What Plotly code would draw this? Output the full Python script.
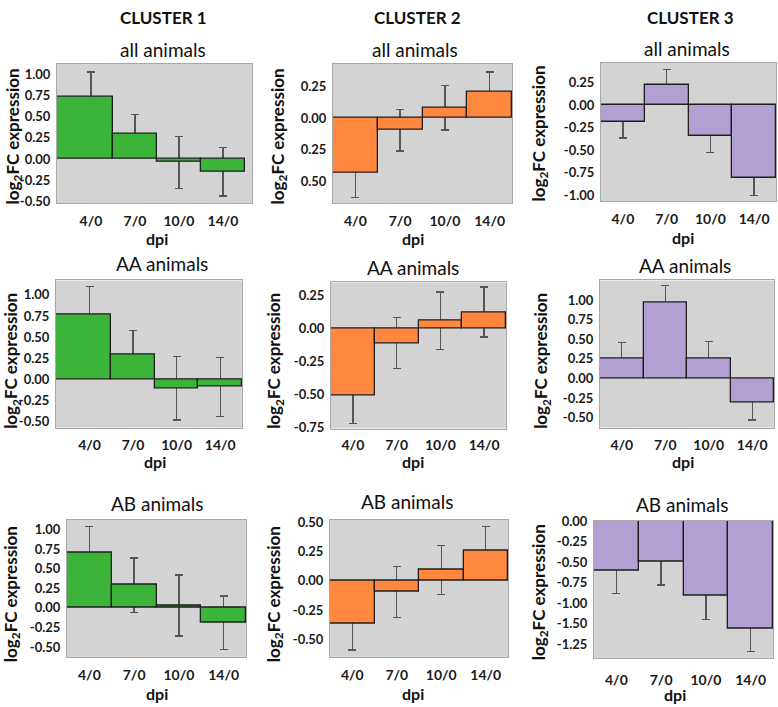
import plotly.graph_objects as go

categories = ["4/0", "7/0", "10/0", "14/0"]

c1_all = [0.74, 0.30, -0.04, -0.15]
c1_all_err = [0.29, 0.23, 0.31, 0.29]
c2_all = [-0.435, -0.093, 0.083, 0.206]
c2_all_err = [0.19, 0.165, 0.175, 0.16]
c3_all = [-0.185, 0.225, -0.344, -0.81]
c3_all_err = [0.18, 0.17, 0.18, 0.19]

c1_AA = [0.77, 0.30, -0.105, -0.09]
c1_AA_err = [0.33, 0.28, 0.375, 0.35]
c2_AA = [-0.51, -0.11, 0.058, 0.125]
c2_AA_err = [0.21, 0.195, 0.22, 0.19]
c3_AA = [0.25, 0.967, 0.25, -0.30]
c3_AA_err = [0.21, 0.22, 0.22, 0.23]

c1_AB = [0.70, 0.29, 0.03, -0.19]
c1_AB_err = [0.34, 0.345, 0.39, 0.34]
c2_AB = [-0.37, -0.097, 0.09, 0.253]
c2_AB_err = [0.22, 0.22, 0.21, 0.21]
c3_AB = [-0.604, -0.496, -0.912, -1.312]
c3_AB_err = [0.28, 0.284, 0.29, 0.28]

tick_c1 = [1.0, 0.75, 0.5, 0.25, 0.0, -0.25, -0.5]
tick_c1_text = ["1.00", "0.75", "0.50", "0.25", "0.00", "-0.25", "-0.50"]
tick_c2_all = [0.25, 0.0, -0.25, -0.5]
tick_c2_all_text = ["0.25", "0.00", "0.25", "0.50"]
tick_c3_all = [0.25, 0.0, -0.25, -0.5, -0.75, -1.0]
tick_c3_all_text = ["0.25", "0.00", "-0.25", "-0.50", "-0.75", "-1.00"]
tick_c2_AA = [0.25, 0.0, -0.25, -0.5, -0.75]
tick_c2_AA_text = ["0.25", "0.00", "-0.25", "-0.50", "-0.75"]
tick_c3_AA = [1.0, 0.75, 0.5, 0.25, 0.0, -0.25, -0.5]
tick_c3_AA_text = ["1.00", "0.75", "0.50", "0.25", "0.00", "-0.25", "-0.50"]
tick_c2_AB = [0.5, 0.25, 0.0, -0.25, -0.5]
tick_c2_AB_text = ["0.50", "0.25", "0.00", "-0.25", "-0.50"]
tick_c3_AB = [0.0, -0.25, -0.5, -0.75, -1.0, -1.25, -1.5]
tick_c3_AB_text = ["0.00", "-0.25", "-0.50", "-0.75", "-1.00", "-1.50", "-1.25"]

cluster_titles = ["CLUSTER 1", "CLUSTER 2", "CLUSTER 3"]
group_titles = ["all animals", "AA animals", "AB animals"]
xlabel = "dpi"
ylabel = "log<sub>2</sub>FC expression"

GREEN = "rgb(60,180,58)"
ORANGE = "rgb(255,136,62)"
PURPLE = "rgb(178,160,210)"

W, H = 778, 707
FONT = "Lato"

# panel specs: values, errors, color, ticks, labels, yrange, pixel box (x0,x1,ytop,ybot), x range, tick gap
panels = [
    (c1_all, c1_all_err, GREEN, tick_c1, tick_c1_text, [-0.523, 1.128], (57, 252, 57, 199), -0.77, 3.66, 5),
    (c2_all, c2_all_err, ORANGE, tick_c2_all, tick_c2_all_text, [-0.67, 0.43], (333, 512, 57, 199), -0.5, 3.5, 5),
    (c3_all, c3_all_err, PURPLE, tick_c3_all, tick_c3_all_text, [-1.065, 0.467], (601, 776, 56, 197), -0.5, 3.5, 5),
    (c1_AA, c1_AA_err, GREEN, tick_c1, tick_c1_text, [-0.57, 1.17], (56, 242, 278, 428), -0.77, 3.5, 5),
    (c2_AA, c2_AA_err, ORANGE, tick_c2_AA, tick_c2_AA_text, [-0.76, 0.35], (331, 506, 280, 429), -0.5, 3.5, 4),
    (c3_AA, c3_AA_err, PURPLE, tick_c3_AA, tick_c3_AA_text, [-0.625, 1.25], (600, 774, 278, 428), -0.5, 3.5, 5),
    (c1_AB, c1_AB_err, GREEN, tick_c1, tick_c1_text, [-0.625, 1.125], (67, 246, 522, 662), -0.5, 3.5, 5),
    (c2_AB, c2_AB_err, ORANGE, tick_c2_AB, tick_c2_AB_text, [-0.65, 0.52], (330, 508, 522, 662), -0.5, 3.5, 5),
    (c3_AB, c3_AB_err, PURPLE, tick_c3_AB, tick_c3_AB_text, [-1.67, 0.005], (594, 773, 523, 663), -0.5, 3.5, 9),
]

fig = go.Figure()
layout = {}
annotations = []

for i, (vals, errs, color, tv, tt, yr, box, xmin, xmax, tgap) in enumerate(panels):
    n = i + 1
    xa = "x" if n == 1 else f"x{n}"
    ya = "y" if n == 1 else f"y{n}"
    x0, x1, yt, yb = box
    # error bars drawn first (behind the bars)
    fig.add_trace(go.Bar(
        x=categories, y=vals, xaxis=xa, yaxis=ya,
        marker=dict(color="rgba(0,0,0,0)", line=dict(width=0)),
        error_y=dict(type="data", array=errs, visible=True, color="#555555",
                     thickness=1.3, width=4),
        showlegend=False, hoverinfo="skip",
    ))
    widths = [1.0, 1.0, 1.0, 1.0]
    offsets = [-0.5, -0.5, -0.5, -0.5]
    if xmin < -0.5:
        widths[0] = 0.5 - xmin
        offsets[0] = xmin
    fig.add_trace(go.Bar(
        x=categories, y=vals, xaxis=xa, yaxis=ya,
        width=widths, offset=offsets,
        marker=dict(color=color, line=dict(color="#1e1e1e", width=1.3)),
        showlegend=False,
    ))
    axis_common = dict(showgrid=False, zeroline=False, showline=True, mirror=True,
                       linecolor="#a8a8a8", linewidth=1)
    layout["xaxis" if n == 1 else f"xaxis{n}"] = dict(
        domain=[x0 / W, x1 / W], anchor=ya, range=[xmin, xmax],
        type="category", ticks="outside", ticklen=tgap, tickcolor="rgba(0,0,0,0)",
        tickfont=dict(family=FONT, size=14, color="#1a1a1a", weight="bold"),
        **axis_common)
    layout["yaxis" if n == 1 else f"yaxis{n}"] = dict(
        domain=[1 - yb / H, 1 - yt / H], anchor=xa, range=yr,
        tickvals=tv, ticktext=tt, ticks="outside", ticklen=3, tickcolor="rgba(0,0,0,0)",
        tickfont=dict(family=FONT, size=13, color="#1a1a1a", weight="bold"),
        **axis_common)

# cluster titles
for x, t in zip([163, 417, 690], cluster_titles):
    annotations.append(dict(text=t, x=x / W, y=1 - 10 / H, xref="paper", yref="paper",
                            showarrow=False, xanchor="center", yanchor="middle",
                            font=dict(family=FONT, size=17, color="#111111", weight="bold")))

# group titles
title_pos = [
    [(163, 42), (415, 42), (687, 41)],
    [(162, 261), (413, 265), (685, 263)],
    [(157, 505), (407, 503), (682, 507)],
]
for r in range(3):
    for (x, y) in title_pos[r]:
        annotations.append(dict(text=group_titles[r], x=x / W, y=1 - y / H, xref="paper", yref="paper",
                                showarrow=False, xanchor="center", yanchor="middle",
                                font=dict(family=FONT, size=19, color="#111111")))

# dpi labels
dpi_pos = [[(157, 235), (413, 235), (683, 234)],
           [(155, 463), (413, 463), (683, 463)],
           [(157, 699), (413, 699), (675, 700)]]
for r in range(3):
    for (x, y) in dpi_pos[r]:
        annotations.append(dict(text=xlabel, x=x / W, y=1 - y / H, xref="paper", yref="paper",
                                showarrow=False, xanchor="center", yanchor="middle",
                                font=dict(family=FONT, size=16, color="#111111", weight="bold")))

# y-axis labels
ylab_pos = [[(14, 131), (279, 131), (540, 128)],
            [(12, 360), (275, 360), (542, 360)],
            [(12, 598), (275, 598), (540, 596)]]
for r in range(3):
    for (x, y) in ylab_pos[r]:
        annotations.append(dict(text=ylabel, x=x / W, y=1 - y / H, xref="paper", yref="paper",
                                showarrow=False, xanchor="center", yanchor="middle", textangle=-90,
                                font=dict(family=FONT, size=17, color="#111111", weight="bold")))

fig.update_layout(
    width=W, height=H, margin=dict(l=0, r=0, t=0, b=0),
    paper_bgcolor="white", plot_bgcolor="#d3d3d3",
    barmode="overlay", bargap=0,
    annotations=annotations,
    **layout,
)

fig.write_html("out.html", config={"displayModeBar": False},
               post_script="document.body.style.margin='0px';")
